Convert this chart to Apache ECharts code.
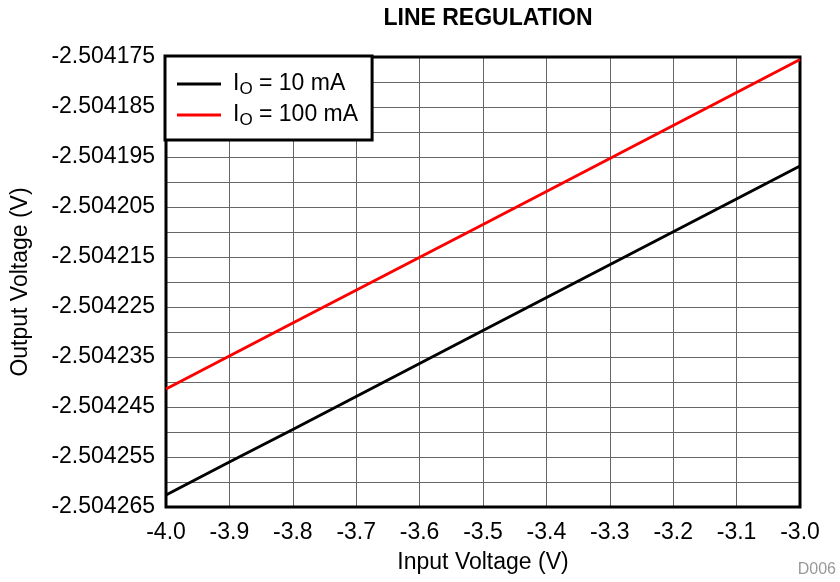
<!DOCTYPE html>
<html>
<head>
<meta charset="utf-8">
<script src="https://cdn.jsdelivr.net/npm/echarts@6/dist/echarts.min.js"></script>
<style>
  html, body { margin: 0; padding: 0; background: #fff; }
  #chart { width: 840px; height: 582px; }
</style>
</head>
<body>
<div id="chart"></div>
<script>
// values (volts)
const inputV = [-4.0, -3.9, -3.8, -3.5, -3.0];
const vout10mA = [-2.5042626, -2.504256, -2.5042495, -2.5042297, -2.5041968];
const vout100mA = [-2.5042414, -2.5042348, -2.5042282, -2.5042085, -2.5041755];
const seriesNames = ['10 mA', '100 mA'];

// y axis is plotted in microvolts relative to BASE to keep the tick math exact
const BASE = -2.5042;
const toMicro = v => Math.round((v - BASE) * 1e8) / 100;

var myChart = echarts.init(document.getElementById('chart'));
var font = 'Liberation Sans, Arial, sans-serif';

function pts(arr) {
  return inputV.map((x, i) => [x, toMicro(arr[i])]);
}

var option = {
  backgroundColor: '#fff',
  animation: false,
  title: {
    text: 'LINE REGULATION',
    left: 483,
    top: 2,
    textAlign: 'center',
    textStyle: { fontFamily: font, fontSize: 23, fontWeight: 'bold', color: '#000' },
  },
  graphic: [
    {
      type: 'text',
      right: 4,
      bottom: 4,
      style: { text: 'D006', fontFamily: font, fontSize: 16, fill: '#999' },
    },
  ],
  grid: {
    left: 166,
    right: 40,
    top: 57,
    bottom: 75,
    outerBoundsMode: 'none',
    show: true,
    borderColor: '#000',
    borderWidth: 3,
    z: 3,
  },
  legend: {
    orient: 'vertical',
    left: 165,
    top: 56,
    icon: 'rect',
    itemWidth: 44,
    itemHeight: 3,
    itemGap: 3,
    padding: [14, 14, 11, 12],
    backgroundColor: '#fff',
    borderColor: '#000',
    borderWidth: 3,
    z: 10,
    data: seriesNames,
    formatter: function (name) {
      return '{i|I}{s|O}{a| = ' + name + '}';
    },
    textStyle: {
      fontFamily: font,
      fontSize: 23,
      color: '#000',
      rich: {
        i: { fontFamily: font, fontSize: 23, lineHeight: 22, padding: [0, 0, 0, 7] },
        s: { fontFamily: font, fontSize: 17, lineHeight: 16, padding: [11, 0, 0, 0] },
        a: { fontFamily: font, fontSize: 23, lineHeight: 22 },
      },
    },
  },
  xAxis: {
    type: 'value',
    min: -4,
    max: -3,
    interval: 0.1,
    name: 'Input Voltage (V)',
    nameLocation: 'middle',
    nameGap: 44,
    nameTextStyle: { fontFamily: font, fontSize: 23, color: '#000' },
    axisLine: { show: false },
    axisTick: { show: false },
    axisLabel: {
      margin: 14,
      fontFamily: font,
      fontSize: 23,
      color: '#000',
      formatter: v => v.toFixed(1),
    },
    splitLine: { show: true, lineStyle: { color: '#666', width: 1 } },
  },
  yAxis: {
    type: 'value',
    min: -65,
    max: 25,
    interval: 5,
    name: 'Output Voltage (V)',
    nameLocation: 'middle',
    nameGap: 134,
    nameTextStyle: { fontFamily: font, fontSize: 23, color: '#000' },
    axisLine: { show: false },
    axisTick: { show: false },
    axisLabel: {
      margin: 11,
      fontFamily: font,
      fontSize: 23,
      color: '#000',
      formatter: function (v) {
        if (Math.round(v + 65) % 10 !== 0) return '';
        return ((Math.round(BASE * 1e6) + Math.round(v)) / 1e6).toFixed(6);
      },
    },
    splitLine: { show: true, lineStyle: { color: '#666', width: 1 } },
  },
  series: [
    {
      name: seriesNames[0],
      type: 'line',
      symbol: 'none',
      color: '#000',
      lineStyle: { color: '#000', width: 3 },
      data: pts(vout10mA),
    },
    {
      name: seriesNames[1],
      type: 'line',
      symbol: 'none',
      color: '#ff0000',
      lineStyle: { color: '#ff0000', width: 3 },
      data: pts(vout100mA),
    },
  ],
};

option && myChart.setOption(option);
</script>
</body>
</html>
